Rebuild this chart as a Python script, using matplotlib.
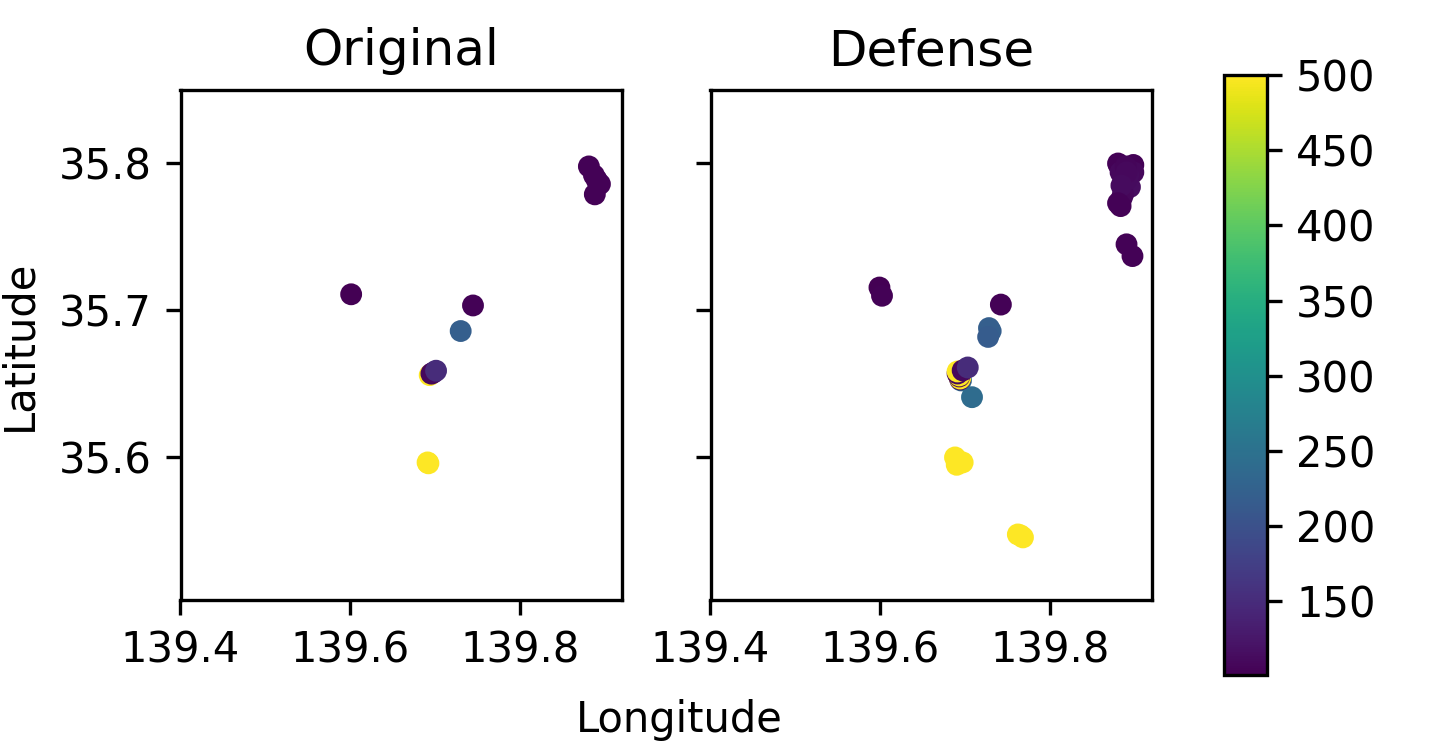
import numpy as np
import matplotlib
matplotlib.use("Agg")
import matplotlib.pyplot as plt

# original locations
orig_lon = [139.601, 139.7445, 139.881, 139.887, 139.890, 139.894, 139.888,
            139.730, 139.6935, 139.691, 139.692, 139.6955, 139.698, 139.701]
orig_lat = [35.711, 35.7034, 35.798, 35.792, 35.789, 35.786, 35.779,
            35.686, 35.6560, 35.5966, 35.596, 35.6570, 35.6578, 35.659]
orig_val = [102, 104, 104, 104, 104, 104, 104,
            220, 500, 500, 500, 110, 110, 150]

# defense locations
def_lon = [139.599, 139.602, 139.742,
           139.880, 139.881, 139.898, 139.898, 139.883, 139.894, 139.886,
           139.890, 139.892, 139.884, 139.889, 139.890, 139.884,
           139.880, 139.883, 139.890, 139.897,
           139.708, 139.728, 139.730, 139.727,
           139.695, 139.694, 139.694, 139.693, 139.693, 139.691, 139.691,
           139.688, 139.690, 139.697,
           139.765, 139.768, 139.762, 139.697, 139.703]
def_lat = [35.7156, 35.710, 35.704,
           35.800, 35.799, 35.799, 35.794, 35.794, 35.784, 35.779,
           35.789, 35.792, 35.776, 35.798, 35.794, 35.785,
           35.773, 35.771, 35.745, 35.737,
           35.641, 35.688, 35.686, 35.682,
           35.6524, 35.6531, 35.6537, 35.6551, 35.6558, 35.6571, 35.6585,
           35.600, 35.595, 35.5966,
           35.547, 35.5456, 35.5476, 35.6592, 35.6612]
def_val = [102, 104, 104,
           104, 104, 104, 110, 110, 115, 110,
           112, 112, 108, 106, 110, 112,
           104, 104, 104, 104,
           240, 220, 220, 215,
           240, 110, 500, 110, 500, 110, 500,
           500, 500, 500,
           500, 500, 500, 110, 150]

xticks = [139.4, 139.6, 139.8]
yticks = [35.6, 35.7, 35.8]

W, H = 1440, 750
fig = plt.figure(figsize=(4.8, 2.5), dpi=300)

def box(x0, y0, x1, y1):
    return [x0 / W, 1 - y1 / H, (x1 - x0) / W, (y1 - y0) / H]

ax1 = fig.add_axes(box(180.5, 90, 622, 600))
ax2 = fig.add_axes(box(710.5, 90, 1152, 600))
cax = fig.add_axes(box(1224, 75, 1267, 675))

vmin, vmax = 101, 500
ax1.scatter(orig_lon, orig_lat, c=orig_val, s=18, cmap="viridis", vmin=vmin, vmax=vmax)
sc = ax2.scatter(def_lon, def_lat, c=def_val, s=18, cmap="viridis", vmin=vmin, vmax=vmax)

for ax, name in [(ax1, "Original"), (ax2, "Defense")]:
    ax.set_xlim(139.4, 139.92)
    ax.set_ylim(35.503, 35.85)
    ax.set_xticks(xticks)
    ax.set_xticklabels(["139.4", "139.6", "139.8"])
    ax.set_yticks(yticks)
    ax.set_title(name)
ax1.set_yticklabels(["35.6", "35.7", "35.8"])
ax2.set_yticklabels([])

cb = fig.colorbar(sc, cax=cax)
cb.set_ticks([150, 200, 250, 300, 350, 400, 450, 500])

fig.text(679.5 / W, 1 - 720 / H, "Longitude", ha="center", va="center")
fig.text(19 / W, 1 - 345 / H, "Latitude", ha="center", va="center", rotation=90)

fig.savefig("out.png", dpi=300)
